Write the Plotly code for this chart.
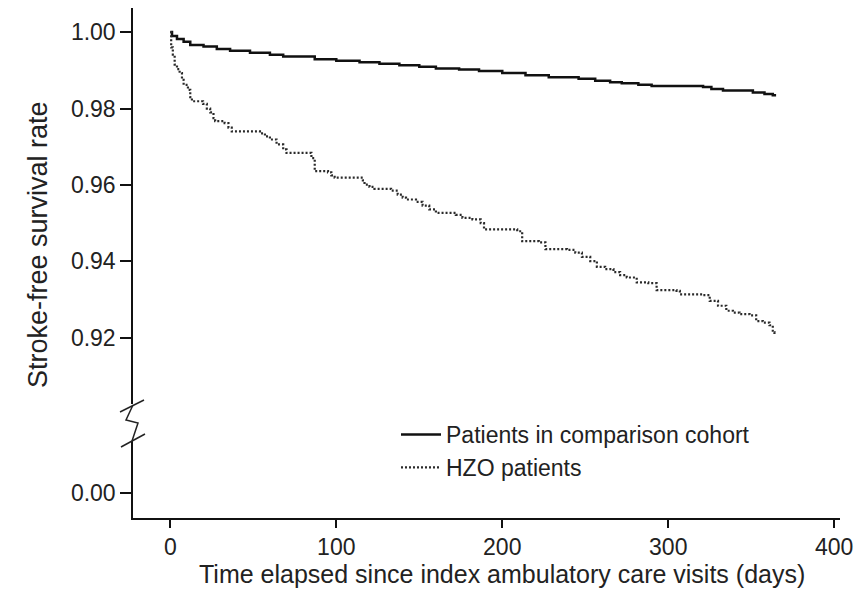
import plotly.graph_objects as go

# ---- data ----
comp_days = [0, 1, 4, 8, 12, 20, 28, 36, 48, 60, 68, 87, 100, 114, 126, 138, 150, 160, 174, 186,
             200, 214, 228, 246, 256, 265, 272, 282, 290, 321, 326, 333, 351, 358, 363, 365]
comp_surv = [1.000, 0.9990, 0.9982, 0.9975, 0.9966, 0.9962, 0.9956, 0.9951, 0.9946, 0.9941, 0.9936,
             0.9929, 0.9925, 0.9921, 0.9917, 0.9913, 0.9909, 0.9905, 0.9902, 0.9898, 0.9893, 0.9887,
             0.9882, 0.9878, 0.9873, 0.9869, 0.9866, 0.9862, 0.9859, 0.9856, 0.9851, 0.9847, 0.9842,
             0.9838, 0.9835, 0.9835]

hzo_days = [0, 0.5, 1.5, 2.6, 4, 5.6, 7, 8, 10.6, 12, 13, 19.7, 22, 24, 26, 27, 32.7, 35, 37, 54, 57,
            60, 64, 68, 70, 85, 87, 95, 97, 99, 116, 117, 120, 123, 133, 137, 140, 142, 148, 152, 156,
            160, 172, 176, 182, 187, 189, 209, 212, 222, 226, 239, 244, 248, 253, 257, 262, 267, 271,
            275, 281, 288, 293, 305, 307, 321, 325, 330, 335, 339, 343, 349, 353, 357, 361, 363, 364]
hzo_surv = [1.000, 0.9960, 0.9941, 0.9915, 0.9903, 0.9893, 0.9875, 0.9862, 0.9849, 0.9830, 0.9819,
            0.9812, 0.9800, 0.9790, 0.9775, 0.9767, 0.9762, 0.9750, 0.9740, 0.9735, 0.9727, 0.9719,
            0.9706, 0.9693, 0.9684, 0.9670, 0.9636, 0.9633, 0.9625, 0.9619, 0.9612, 0.9601, 0.9595,
            0.9590, 0.9585, 0.9575, 0.9567, 0.9562, 0.9556, 0.9546, 0.9536, 0.9527, 0.9522, 0.9514,
            0.9510, 0.9500, 0.9484, 0.9479, 0.9453, 0.9450, 0.9432, 0.9430, 0.9423, 0.9412, 0.9401,
            0.9386, 0.9380, 0.9372, 0.9364, 0.9358, 0.9345, 0.9343, 0.9325, 0.9323, 0.9314, 0.9312,
            0.9297, 0.9284, 0.9271, 0.9266, 0.9262, 0.9259, 0.9244, 0.9240, 0.9233, 0.9215, 0.9210]

top_ticks = [0.92, 0.94, 0.96, 0.98, 1.00]
bottom_ticks = [0.00]
x_ticks = [0, 100, 200, 300, 400]

series_names = ["Patients in comparison cohort", "HZO patients"]

# ---- layout geometry (pixels) ----
W, H = 866, 590
L, R, T, B = 133, 840, 8, 518
pw, ph = R - L, B - T


def px(x):
    return (x - L) / pw


def py(y):
    return (B - y) / ph


FONT = "Liberation Sans, Arial, Helvetica, sans-serif"
TXT = "#222222"

fig = go.Figure()
fig.add_trace(go.Scatter(x=comp_days, y=comp_surv, mode="lines", line_shape="hv",
                         name=series_names[0], line=dict(color="#111111", width=2.5),
                         xaxis="x", yaxis="y"))
fig.add_trace(go.Scatter(x=hzo_days, y=hzo_surv, mode="lines", line_shape="hv",
                         name=series_names[1], line=dict(color="#2a2a2a", width=2.2, dash="2px,2px"),
                         xaxis="x", yaxis="y"))
# invisible helper trace so the lower (broken) y-axis segment is drawn
fig.add_trace(go.Scatter(x=comp_days[:1], y=[None], mode="lines", showlegend=False,
                         hoverinfo="skip", xaxis="x", yaxis="y2"))

axis_common = dict(showgrid=False, zeroline=False, showline=True, linecolor="#111111",
                   linewidth=1.5, ticks="outside", tickcolor="#111111", tickwidth=1.5,
                   tickfont=dict(family=FONT, size=23, color=TXT))

fig.update_layout(
    width=W, height=H,
    margin=dict(l=L, r=W - R, t=T, b=H - B),
    paper_bgcolor="white", plot_bgcolor="white",
    showlegend=True,
    legend=dict(x=px(396), y=py(413), xanchor="left", yanchor="top",
                font=dict(family=FONT, size=23, color=TXT), itemwidth=40,
                bgcolor="rgba(0,0,0,0)", tracegroupgap=0),
    xaxis=dict(range=[-22.5, 403.5], tickvals=x_ticks, ticklen=8, anchor="y2",
               **axis_common),
    yaxis=dict(domain=[py(404), 1], range=[0.9027, 1.0063], tickvals=top_ticks,
               tickformat=".2f", ticklen=11, anchor="x", **axis_common),
    yaxis2=dict(domain=[0, py(441)], range=[-0.00653, 0.01384], tickvals=bottom_ticks,
                tickformat=".2f", ticklen=11, anchor="x", **axis_common),
)

# y-axis break marks
brk = dict(type="line", xref="paper", yref="paper", line=dict(color="#222222", width=1.5))
fig.add_shape(x0=px(120), y0=py(412), x1=px(144), y1=py(400), **brk)
fig.add_shape(x0=px(121), y0=py(447), x1=px(145), y1=py(434), **brk)
fig.add_shape(type="path", xref="paper", yref="paper",
              path=f"M {px(133)},{py(405)} L {px(126)},{py(420)} L {px(138)},{py(423)} L {px(132)},{py(441)}",
              line=dict(color="#222222", width=1.5))

# axis titles
fig.add_annotation(text="Stroke-free survival rate", xref="paper", yref="paper",
                   x=px(38), y=py(245), textangle=-90, showarrow=False,
                   xanchor="center", yanchor="middle",
                   font=dict(family=FONT, size=27, color=TXT))
fig.add_annotation(text="Time elapsed since index ambulatory care visits (days)",
                   xref="paper", yref="paper", x=px(502), y=py(574), showarrow=False,
                   xanchor="center", yanchor="middle",
                   font=dict(family=FONT, size=25, color=TXT))

fig.write_html("out.html")
